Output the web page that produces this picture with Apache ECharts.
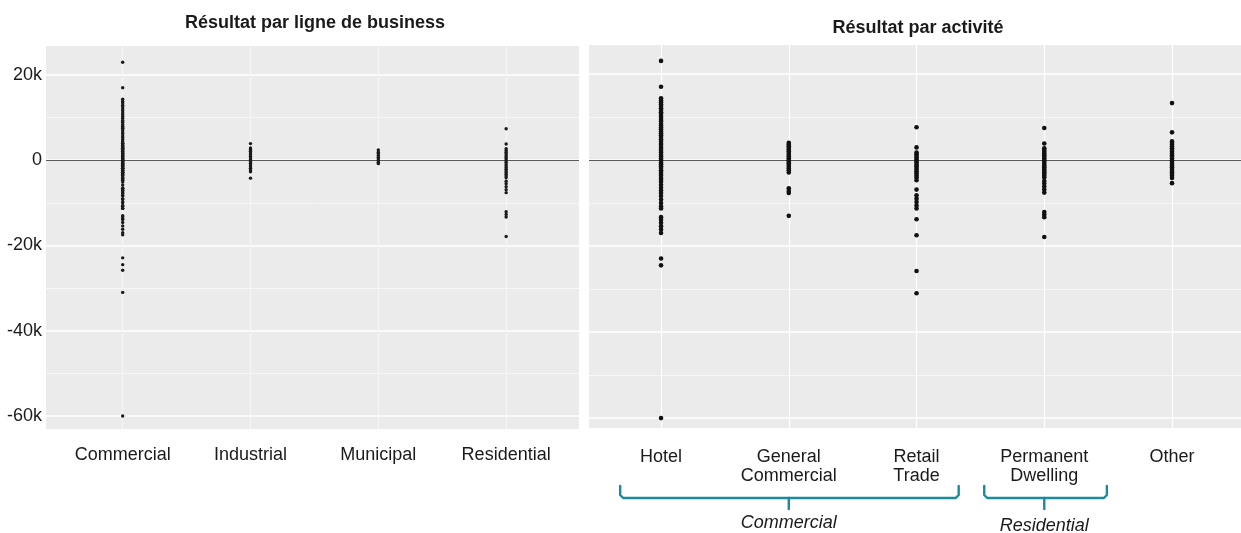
<!DOCTYPE html>
<html><head><meta charset="utf-8">
<script src="https://cdn.jsdelivr.net/npm/echarts@6/dist/echarts.min.js"></script>
<style>html,body{margin:0;padding:0;background:#fff}#c{width:1241px;height:533px}</style>
</head><body><div id="c"></div>
<script>
// ---- categories ----
const lineCategories = ['Commercial', 'Industrial', 'Municipal', 'Residential'];
const activityCategories = ['Hotel', 'General\nCommercial', 'Retail\nTrade', 'Permanent\nDwelling', 'Other'];
const yTickValues = [-60000, -40000, -20000, 0, 20000];
const yMinorValues = [-50000, -30000, -10000, 10000];

// ---- values by activity ----
const hotel = [23000, 17000, 14300, 13800, 13400, 12900, 12500, 12000, 11600, 11100, 10700, 10200, 9800, 9300, 8900, 8400, 8000, 7500, 7100, 6600, 6200, 5700, 5300, 4800, 4400, 3900, 3500, 3000, 2600, 2100, 1700, 1200, 800, 300, -100, -600, -1000, -1500, -1900, -2400, -2800, -3300, -3700, -4200, -4600, -5100, -5800, -6500, -7100, -7700, -8400, -9200, -10000, -10800, -11300, -13300, -13900, -14600, -15400, -16200, -17000, -22900, -24500, -60000];
const generalCommercial = [4000, 3600, 3200, 2800, 2400, 2000, 1600, 1200, 800, 400, 0, -400, -800, -1200, -1600, -2000, -2400, -2900, -6600, -7200, -7700, -13000];
const retailTrade = [7600, 2900, 1700, 1300, 900, 500, 100, -300, -700, -1100, -1500, -1900, -2300, -2700, -3100, -3600, -4100, -4700, -6900, -8200, -9000, -9800, -10600, -11300, -13800, -17500, -25800, -31000];
const permanentDwelling = [7400, 3800, 2700, 2300, 1900, 1500, 1100, 700, 300, -100, -500, -900, -1300, -1700, -2100, -2500, -2900, -3300, -3700, -4100, -4900, -5500, -6200, -6900, -7600, -12100, -12700, -13300, -17900];
const other = [13200, 6400, 4300, 3900, 3500, 3100, 2700, 2300, 1900, 1500, 1100, 700, 300, -100, -500, -900, -1300, -1700, -2100, -2500, -2900, -3300, -3700, -4200, -5400];

// ---- values by business line ----
const commercial = hotel.concat(generalCommercial, retailTrade);
const industrial = [3900, 2900, 2500, 2100, 1700, 1300, 900, 500, 100, -300, -700, -1100, -1500, -1900, -2300, -2700, -4200];
const municipal = [2400, 1900, 1500, 1100, 700, 300, -100, -500, -800];
const residential = permanentDwelling.slice();

const lineValues = [commercial, industrial, municipal, residential];
const activityValues = [hotel, generalCommercial, retailTrade, permanentDwelling, other];

const FONT = '"Liberation Sans", Arial, sans-serif';
const TEXT = '#1a1a1a';

function pts(valuesList) {
  const out = [];
  valuesList.forEach((vals, i) => vals.forEach(v => out.push([i + 1, v])));
  return out;
}
function gridLines(nCats, vColor) {
  const d = [];
  yMinorValues.forEach(v => d.push({ yAxis: v, lineStyle: { color: '#fafafa', width: 0.8, type: 'solid' } }));
  yTickValues.forEach(v => d.push({ yAxis: v, lineStyle: { color: '#ffffff', width: 1.6, type: 'solid' } }));
  for (let i = 1; i <= nCats; i++) d.push({ xAxis: i, lineStyle: { color: vColor, width: 1.3, type: 'solid' } });
  d.push({ yAxis: 0, lineStyle: { color: '#5a5a5a', width: 1.1, type: 'solid' } });
  return { silent: true, symbol: 'none', z: 1, label: { show: false }, animation: false, data: d };
}

const chart = echarts.init(document.getElementById('c'), null, { renderer: 'canvas' });
chart.setOption({
  animation: false,
  backgroundColor: '#ffffff',
  title: [
    { text: 'Résultat par ligne de business', left: 310, top: 9, textAlign: 'center',
      textStyle: { fontFamily: FONT, fontSize: 18, fontWeight: 'bold', color: TEXT } },
    { text: 'Résultat par activité', left: 913, top: 14, textAlign: 'center',
      textStyle: { fontFamily: FONT, fontSize: 18, fontWeight: 'bold', color: TEXT } }
  ],
  grid: [
    { left: 46, top: 46, width: 533, height: 383, show: true, backgroundColor: '#EBEBEB', borderWidth: 0 },
    { left: 589, top: 45, width: 652, height: 383, show: true, backgroundColor: '#EBEBEB', borderWidth: 0 }
  ],
  xAxis: [
    { gridIndex: 0, type: 'value', min: 0.4, max: 4.57,
      axisLine: { show: false }, axisTick: { show: false }, splitLine: { show: false },
      axisLabel: { customValues: [1, 2, 3, 4], formatter: v => lineCategories[Math.round(v) - 1] || '',
        fontFamily: FONT, fontSize: 18, color: TEXT, margin: 17, lineHeight: 19 } },
    { gridIndex: 1, type: 'value', min: 0.436, max: 5.54,
      axisLine: { show: false }, axisTick: { show: false }, splitLine: { show: false },
      axisLabel: { customValues: [1, 2, 3, 4, 5], formatter: v => activityCategories[Math.round(v) - 1] || '',
        fontFamily: FONT, fontSize: 18, color: TEXT, margin: 20, lineHeight: 19 } }
  ],
  yAxis: [
    { gridIndex: 0, type: 'value', min: -63050, max: 26800,
      axisLine: { show: false }, axisTick: { show: false }, splitLine: { show: false },
      axisLabel: { customValues: yTickValues, formatter: v => v === 0 ? '0' : (v / 1000) + 'k',
        fontFamily: FONT, fontSize: 18, color: TEXT, margin: 4 } },
    { gridIndex: 1, type: 'value', min: -62300, max: 26700,
      axisLine: { show: false }, axisTick: { show: false }, splitLine: { show: false },
      axisLabel: { show: false } }
  ],
  series: [
    { type: 'scatter', xAxisIndex: 0, yAxisIndex: 0, z: 3, data: pts(lineValues),
      symbol: 'circle', symbolSize: 3.4, itemStyle: { color: '#1a1a1a', opacity: 1 },
      markLine: gridLines(4, '#f4f4f4') },
    { type: 'scatter', xAxisIndex: 1, yAxisIndex: 1, z: 3, data: pts(activityValues),
      symbol: 'circle', symbolSize: 4.6, itemStyle: { color: '#111111', opacity: 1 },
      markLine: gridLines(5, '#ffffff') }
  ]
});

// ---- group brackets under the activity axis ----
const groups = [
  { label: 'Commercial', from: 0.68, to: 3.33, mid: 2, labelY: 523 },
  { label: 'Residential', from: 3.53, to: 4.49, mid: 4, labelY: 526 }
];
const TEAL = '#1b8a9c';
const graphics = [];
groups.forEach(g => {
  const x1 = chart.convertToPixel({ xAxisIndex: 1 }, g.from);
  const x2 = chart.convertToPixel({ xAxisIndex: 1 }, g.to);
  const xc = chart.convertToPixel({ xAxisIndex: 1 }, g.mid);
  const yt = 486, yb = 498, ytip = 509, r = 3;
  graphics.push({ type: 'polyline', silent: true,
    shape: { points: [[x1, yt], [x1, yb - r], [x1 + r, yb], [x2 - r, yb], [x2, yb - r], [x2, yt]] },
    style: { fill: null, stroke: TEAL, lineWidth: 2.4, lineCap: 'round', lineJoin: 'round' } });
  graphics.push({ type: 'line', silent: true,
    shape: { x1: xc, y1: yb, x2: xc, y2: ytip },
    style: { stroke: TEAL, lineWidth: 2.4, lineCap: 'round' } });
  graphics.push({ type: 'text', x: xc, y: g.labelY, silent: true,
    style: { text: g.label, fontFamily: FONT, fontSize: 18, fontStyle: 'italic', fill: TEXT, textAlign: 'center', textVerticalAlign: 'middle' } });
});
chart.setOption({ graphic: graphics });
</script>
</body></html>
